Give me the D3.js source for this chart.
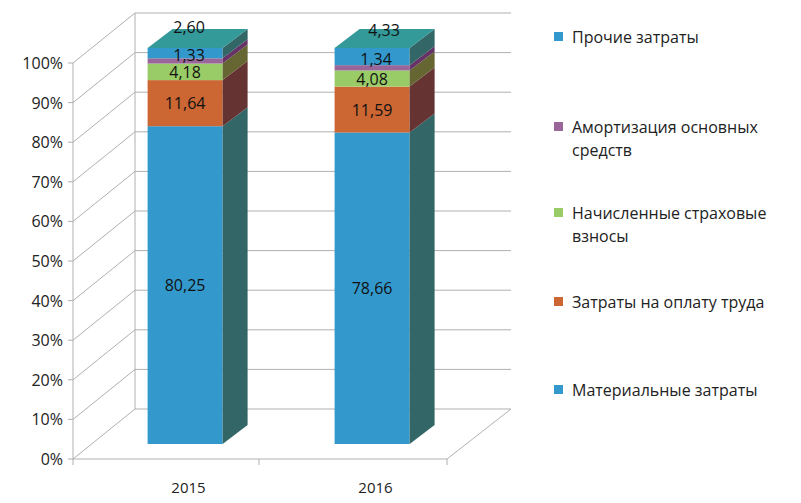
<!DOCTYPE html>
<html><head><meta charset="utf-8">
<script src="https://cdn.jsdelivr.net/npm/d3@7"></script>
<style>body{margin:0;background:#fff}svg{font-family:"Open Sans",sans-serif}</style>
</head><body><svg id="chart" width="801" height="503"></svg>
<script>
// данные
const years = ["2015", "2016"];
const series = ["Материальные затраты", "Затраты на оплату труда", "Начисленные страховые взносы", "Амортизация основных средств", "Прочие затраты"];
const material = [80.25, 78.66];
const labor = [11.64, 11.59];
const insurance = [4.18, 4.08];
const amort = [1.33, 1.34];
const other = [2.60, 4.33];
const ticks = [0, 10, 20, 30, 40, 50, 60, 70, 80, 90, 100];

const values = [material, labor, insurance, amort, other];
const front = ["#3399cc", "#cc6633", "#99cc66", "#996699", "#3399cc"];
const side = ["#336666", "#663333", "#666633", "#663366", "#336666"];
const topFace = "#339999";

const svg = d3.select("#chart");
const y = d3.scaleLinear().domain([0, 100]).range([459, 63]);
const x = d3.scaleBand().domain(years).range([73, 447]).paddingInner(0).paddingOuter(0);
const DX = 62, DY = -50; // глубина стенки
const grid = "#b0b0b0";

// сетка
ticks.forEach(t => {
    const yy = y(t);
    svg.append("line").attr("x1", 73).attr("y1", yy).attr("x2", 73 + DX).attr("y2", yy + DY).attr("stroke", grid);
    svg.append("line").attr("x1", 73 + DX).attr("y1", yy + DY).attr("x2", 511).attr("y2", yy + DY).attr("stroke", grid);
    svg.append("line").attr("x1", 68).attr("y1", yy).attr("x2", 73).attr("y2", yy).attr("stroke", grid);
    svg.append("text").attr("x", 63).attr("y", yy + 6).attr("text-anchor", "end")
        .attr("font-size", "16px").attr("fill", "#222").text(t + "%");
});
svg.append("line").attr("x1", 73 + DX).attr("y1", y(0) + DY).attr("x2", 73 + DX).attr("y2", y(100) + DY).attr("stroke", grid);
svg.append("line").attr("x1", 73).attr("y1", y(0)).attr("x2", 73).attr("y2", y(100)).attr("stroke", grid);
svg.append("line").attr("x1", 73).attr("y1", y(0)).attr("x2", 447).attr("y2", y(0)).attr("stroke", grid);
svg.append("line").attr("x1", 447).attr("y1", y(0)).attr("x2", 511).attr("y2", y(0) + DY).attr("stroke", grid);
[73, 259, 447].forEach(xx => svg.append("line").attr("x1", xx).attr("y1", 459).attr("x2", xx).attr("y2", 465).attr("stroke", grid));

years.forEach((yr, i) => {
    svg.append("text").attr("x", x(yr) + x.bandwidth() / 2 + 22).attr("y", 493).attr("text-anchor", "middle")
        .attr("font-size", "15px").attr("fill", "#222").text(yr);
});

// столбцы
const ox = 18.6, oy = -15, bw = 75, sx = 25, sy = -19;
years.forEach((yr, i) => {
    const bx = x(yr) + x.bandwidth() / 2 - bw / 2 + ox;
    let acc = 0;
    values.forEach((arr, s) => {
        const v = arr[i];
        const y0 = y(acc) + oy, y1 = y(acc + v) + oy;
        svg.append("rect").attr("x", bx).attr("y", y1).attr("width", bw).attr("height", y0 - y1).attr("fill", front[s]);
        svg.append("path").attr("d", `M${bx + bw},${y0} L${bx + bw + sx},${y0 + sy} L${bx + bw + sx},${y1 + sy} L${bx + bw},${y1} Z`).attr("fill", side[s]);
        acc += v;
    });
    const yt = y(acc) + oy;
    svg.append("path").attr("d", `M${bx},${yt} L${bx + sx},${yt + sy} L${bx + bw + sx},${yt + sy} L${bx + bw},${yt} Z`).attr("fill", topFace);

    // подписи
    acc = 0;
    values.forEach((arr, s) => {
        const v = arr[i];
        let ly = y(acc + v / 2) + oy + 6;
        let lx = bx + bw / 2;
        if (s === 3) { ly = y(acc + v + other[i] / 2) + oy + 8; lx = bx + bw / 2 + 4; }
        if (s === 4) { ly = yt + sy + 4 + (i === 1 ? 3 : 0); lx = bx + bw / 2 + 4 + i * 8; }
        svg.append("text").attr("x", lx).attr("y", ly).attr("text-anchor", "middle")
            .attr("font-size", "16px").attr("fill", "#111").text(v.toFixed(2).replace(".", ","));
        acc += v;
    });
});

// легенда
const legend = [
    {s: 4, lines: ["Прочие затраты"], y: 37},
    {s: 3, lines: ["Амортизация основных", "средств"], y: 127},
    {s: 2, lines: ["Начисленные страховые", "взносы"], y: 213},
    {s: 1, lines: ["Затраты на оплату труда"], y: 302},
    {s: 0, lines: ["Материальные затраты"], y: 390}
];
legend.forEach(d => {
    svg.append("rect").attr("x", 554).attr("y", d.y - 5).attr("width", 9).attr("height", 9).attr("fill", front[d.s]);
    d.lines.forEach((l, k) => svg.append("text").attr("x", 572).attr("y", d.y + 6 + k * 23)
        .attr("font-size", "16px").attr("fill", "#222").text(l));
});
</script></body></html>
